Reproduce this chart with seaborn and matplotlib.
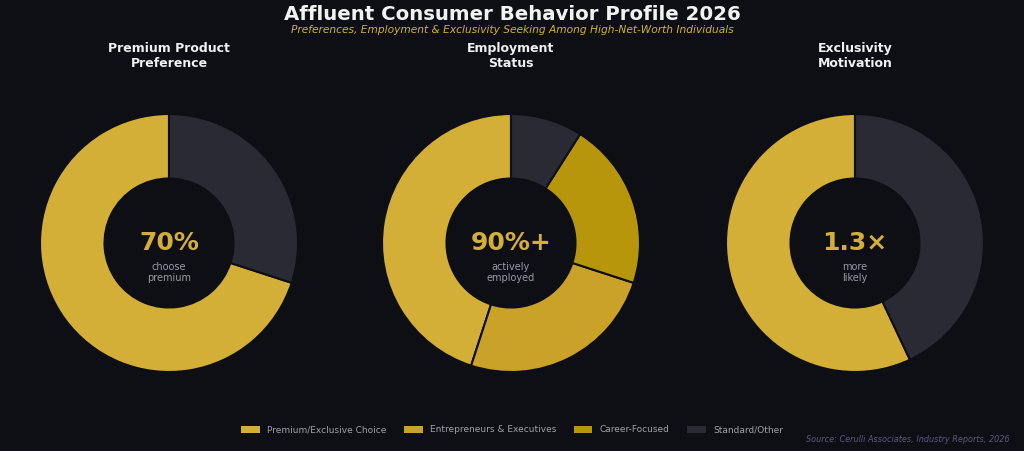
import matplotlib
matplotlib.use("Agg")
import matplotlib.pyplot as plt
import seaborn as sns
from matplotlib.patches import Patch

# =======================
# DATA
# =======================
titles = ["Premium Product\nPreference", "Employment\nStatus", "Exclusivity\nMotivation"]
center_values = ["70%", "90%+", "1.3×"]
center_labels = ["choose\npremium", "actively\nemployed", "more\nlikely"]

premium_labels = ["Premium/Exclusive Choice", "Standard/Other"]
premium_values = [70, 30]

employment_labels = ["Premium/Exclusive Choice", "Entrepreneurs & Executives",
                     "Career-Focused", "Standard/Other"]
employment_values = [45, 25, 21, 9]

exclusivity_labels = ["Premium/Exclusive Choice", "Standard/Other"]
exclusivity_values = [57, 43]

legend_labels = ["Premium/Exclusive Choice", "Entrepreneurs & Executives",
                 "Career-Focused", "Standard/Other"]

# =======================
# STYLE
# =======================
BG = "#0e0f14"
colors = {
    "Premium/Exclusive Choice": "#d4af37",
    "Entrepreneurs & Executives": "#c9a227",
    "Career-Focused": "#b8960c",
    "Standard/Other": "#2a2a35",
}
GOLD = "#d4af37"

sns.set_theme(style="dark")
plt.rcParams["font.family"] = ["DejaVu Sans"]

fig = plt.figure(figsize=(10.24, 4.51), dpi=100)
fig.patch.set_facecolor(BG)

W, H = 1024, 451
centers_px = [169, 511, 855]
cy_px = 243
r_px = 129

datasets = [
    (premium_labels, premium_values),
    (employment_labels, employment_values),
    (exclusivity_labels, exclusivity_values),
]

for i, (labels, values) in enumerate(datasets):
    cx = centers_px[i]
    ax = fig.add_axes([(cx - r_px) / W, (H - cy_px - r_px) / H, 2 * r_px / W, 2 * r_px / H])
    ax.set_facecolor(BG)
    ax.pie(values, colors=[colors[l] for l in labels], startangle=90,
           counterclock=True, radius=1.0,
           wedgeprops=dict(width=0.5, edgecolor=BG, linewidth=1.5))
    ax.set_xlim(-1.0, 1.0)
    ax.set_ylim(-1.0, 1.0)
    ax.set_aspect("equal")
    ax.axis("off")
    ax.text(0, 0.0, center_values[i], ha="center", va="center",
            fontsize=18, fontweight="bold", color=GOLD)
    ax.text(0, -0.23, center_labels[i], ha="center", va="center",
            fontsize=7, color="#9a9aa5", linespacing=1.1)
    fig.text(cx / W, 1 - 56 / H, titles[i], ha="center", va="center",
             fontsize=9, fontweight="bold", color="#f0f0f0", linespacing=1.2)

fig.text(0.5, 1 - 15 / H, "Affluent Consumer Behavior Profile 2026", ha="center",
         va="center", fontsize=14.2, fontweight="bold", color="#f2f2f2")
fig.text(0.5, 1 - 30 / H,
         "Preferences, Employment & Exclusivity Seeking Among High-Net-Worth Individuals",
         ha="center", va="center", fontsize=7.7, style="italic", color=GOLD)

handles = [Patch(facecolor=colors[l], edgecolor="none", label=l) for l in legend_labels]
leg = fig.legend(handles=handles, loc="center", bbox_to_anchor=(0.5, 1 - 430 / H),
                 ncol=4, frameon=False, fontsize=6.5, handlelength=2.1,
                 handleheight=0.7, columnspacing=1.9, handletextpad=0.8)
for t in leg.get_texts():
    t.set_color("#a0a0a8")

fig.text(1010 / W, 1 - 440 / H, "Source: Cerulli Associates, Industry Reports, 2026",
         ha="right", va="center", fontsize=5.9, style="italic", color="#5a5880")

fig.savefig("out.png", dpi=100, facecolor=BG)
